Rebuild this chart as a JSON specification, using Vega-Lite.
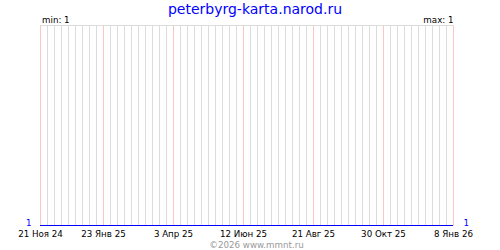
{
  "$schema": "https://vega.github.io/schema/vega-lite/v6.json",
  "width": 413,
  "height": 200,
  "autosize": {"type": "none"},
  "padding": {"left": 40, "top": 25, "right": 47, "bottom": 25},
  "background": "#ffffff",
  "config": {
    "view": {"stroke": "#dcdcdc", "strokeWidth": 1},
    "font": "DejaVu Sans"
  },
  "title": {
    "text": "peterbyrg-karta.narod.ru",
    "color": "#0000ff",
    "font": "DejaVu Sans",
    "fontSize": 14,
    "fontWeight": "normal",
    "anchor": "middle",
    "frame": "group",
    "baseline": "alphabetic",
    "offset": 4,
    "dx": 8.5,
    "dy": 16
  },
  "data": {
    "values": [
      {"date": "2024-11-21", "visits": 1},
      {"date": "2025-01-23", "visits": 1},
      {"date": "2025-04-03", "visits": 1},
      {"date": "2025-06-12", "visits": 1},
      {"date": "2025-08-21", "visits": 1},
      {"date": "2025-10-30", "visits": 1},
      {"date": "2026-01-08", "visits": 1}
    ]
  },
  "encoding": {
    "x": {
      "field": "date",
      "type": "temporal",
      "scale": {"type": "utc", "domain": [1732147200000, 1767830400000], "nice": false},
      "axis": {
        "values": [1732147200000, 1732752000000, 1733356800000, 1733961600000, 1734566400000, 1735171200000, 1735776000000, 1736380800000, 1736985600000, 1737590400000, 1738195200000, 1738800000000, 1739404800000, 1740009600000, 1740614400000, 1741219200000, 1741824000000, 1742428800000, 1743033600000, 1743638400000, 1744243200000, 1744848000000, 1745452800000, 1746057600000, 1746662400000, 1747267200000, 1747872000000, 1748476800000, 1749081600000, 1749686400000, 1750291200000, 1750896000000, 1751500800000, 1752105600000, 1752710400000, 1753315200000, 1753920000000, 1754524800000, 1755129600000, 1755734400000, 1756339200000, 1756944000000, 1757548800000, 1758153600000, 1758758400000, 1759363200000, 1759968000000, 1760572800000, 1761177600000, 1761782400000, 1762387200000, 1762992000000, 1763596800000, 1764201600000, 1764806400000, 1765411200000, 1766016000000, 1766620800000, 1767225600000, 1767830400000],
        "grid": true,
        "gridColor": {
          "condition": {"test": "time(datum.value) == 1732147200000 || (time(datum.value) - 1732147200000 + 604800000) % 6048000000 == 0", "value": "#ffc4c4"},
          "value": "#dcdcdc"
        },
        "gridOpacity": 1,
        "gridWidth": 1,
        "domain": false,
        "ticks": false,
        "labelExpr": "(time(datum.value) == 1732147200000 || (time(datum.value) - 1732147200000 + 604800000) % 6048000000 == 0) ? utcdate(datum.value) + ' ' + ['Янв','Фев','Мар','Апр','Май','Июн','Июл','Авг','Сен','Окт','Ноя','Дек'][utcmonth(datum.value)] + ' ' + utcFormat(datum.value, '%y') : ''",
        "labelFont": "DejaVu Sans",
        "labelFontSize": 8.7,
        "labelColor": "#000000",
        "labelPadding": 4,
        "labelOverlap": false,
        "labelFlush": false,
        "labelBound": false,
        "labelAngle": 0,
        "title": "©2026 www.mmnt.ru",
        "titleColor": "#999999",
        "titleFont": "DejaVu Sans",
        "titleFontSize": 8.7,
        "titleFontWeight": "normal",
        "titleX": 216,
        "titleY": 22,
        "titleAlign": "center",
        "titleBaseline": "alphabetic"
      }
    }
  },
  "layer": [
    {
      "mark": {"type": "line", "color": "#0000ff", "strokeWidth": 1, "yOffset": 0.5},
      "encoding": {
        "y": {
          "field": "visits",
          "type": "quantitative",
          "scale": {"domain": [1, 2], "zero": false, "nice": false},
          "axis": {
            "orient": "left",
            "values": [1],
            "domain": false,
            "ticks": false,
            "grid": false,
            "labelColor": "#0000ff",
            "labelFont": "DejaVu Sans",
            "labelFontSize": 8.7,
            "labelPadding": 9,
            "labelBaseline": "alphabetic",
            "labelFlush": false,
            "title": "min: 1",
            "titleAngle": 0,
            "titleAlign": "left",
            "titleBaseline": "alphabetic",
            "titleX": 1.5,
            "titleY": -2.5,
            "titleFont": "DejaVu Sans",
            "titleFontSize": 8.7,
            "titleFontWeight": "normal",
            "titleColor": "#000000"
          }
        }
      }
    },
    {
      "mark": {"type": "line", "color": "#0000ff", "strokeWidth": 1, "yOffset": 0.5, "opacity": 0},
      "encoding": {
        "y": {
          "field": "visits",
          "type": "quantitative",
          "scale": {"domain": [1, 2], "zero": false, "nice": false},
          "axis": {
            "orient": "right",
            "values": [1],
            "domain": false,
            "ticks": false,
            "grid": false,
            "labelColor": "#0000ff",
            "labelFont": "DejaVu Sans",
            "labelFontSize": 8.7,
            "labelPadding": 10,
            "labelBaseline": "alphabetic",
            "labelFlush": false,
            "title": "max: 1",
            "titleAngle": 0,
            "titleAlign": "right",
            "titleBaseline": "alphabetic",
            "titleX": 0,
            "titleY": -2.5,
            "titleFont": "DejaVu Sans",
            "titleFontSize": 8.7,
            "titleFontWeight": "normal",
            "titleColor": "#000000"
          }
        }
      }
    }
  ],
  "resolve": {"axis": {"y": "independent"}}
}
